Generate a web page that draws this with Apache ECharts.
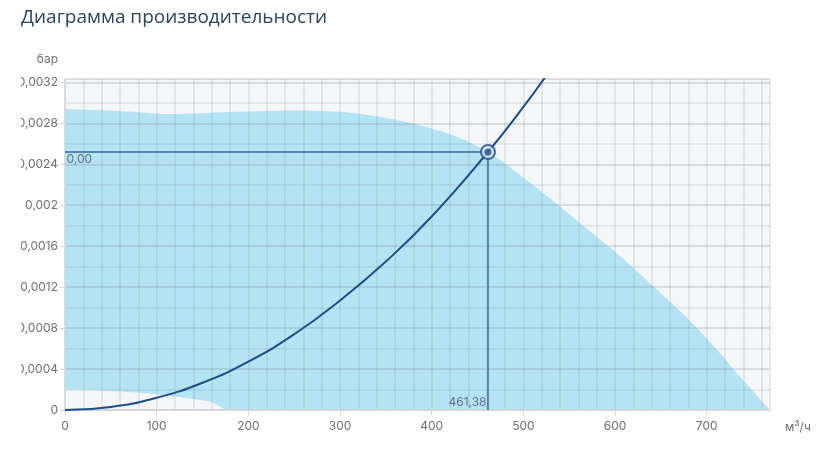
<!DOCTYPE html>
<html>
<head>
<meta charset="utf-8">
<script src="https://cdn.jsdelivr.net/npm/echarts@6.0.0/dist/echarts.min.js"></script>
<style>
  html, body { margin: 0; padding: 0; background: #fff; }
  #chart { position: absolute; left: 21px; top: 0; width: 808px; height: 467px; }
</style>
</head>
<body>
<div id="chart"></div>
<script>
// рабочая кривая сети (м3/ч, бар)
var curveX = [0, 50, 100, 150, 200, 250, 300, 350, 400, 461.38, 500, 530];
var curveY = [0, 0.00003, 0.00012, 0.000266, 0.000473, 0.00074, 0.00107, 0.00145, 0.00189, 0.00252, 0.00296, 0.00333];

// верхняя граница рабочей зоны
var upperX = [0, 60, 115, 180, 250, 303, 358, 400, 430, 461.38, 490, 530, 565, 602, 640, 675, 705, 735, 769];
var upperY = [0.00294, 0.00292, 0.00289, 0.00291, 0.002925, 0.00291, 0.00284, 0.00275, 0.00266, 0.00252, 0.00234, 0.00206, 0.0018, 0.00153, 0.00122, 0.00093, 0.00065, 0.00034, 0];

// нижняя граница рабочей зоны
var lowerX = [0, 50, 100, 130, 158, 168, 175];
var lowerY = [0.0002, 0.000188, 0.000152, 0.00012, 0.00008, 0.00004, 0];

// рабочая точка
var workPoint = [461.38, 0.00252];
var workLabelX = '461,38';
var workLabelY = '0,00';

function zip(xs, ys) {
    return xs.map(function (x, i) { return [x, ys[i]]; });
}

var gridColor = 'rgba(135,145,160,0.22)';
var gridColorMajor = 'rgba(125,135,150,0.32)';
var axisColor = '#d3d7dc';
var lineBlue = '#1c4e88';

var myChart = echarts.init(document.getElementById('chart'));

var option = {
    animation: false,
    title: {
        text: 'Диаграмма производительности',
        left: 0,
        top: 8,
        padding: 0,
        textStyle: {
            fontFamily: 'Open Sans',
            fontSize: 19,
            fontWeight: 'normal',
            color: '#274560'
        }
    },
    grid: {
        left: 44,
        top: 79,
        right: 59,
        bottom: 57,
        outerBoundsMode: 'none',
        containLabel: false,
        show: true,
        backgroundColor: '#f5f6f8',
        borderWidth: 0
    },
    xAxis: {
        type: 'value',
        min: 0,
        max: 769,
        interval: 100,
        z: 3,
        name: 'м³/ч',
        nameLocation: 'end',
        nameGap: 15,
        nameTextStyle: {
            fontFamily: 'Inter',
            fontSize: 12,
            color: '#6b6f76',
            verticalAlign: 'top',
            padding: [11, 0, 0, 0]
        },
        axisLine: { lineStyle: { color: axisColor, width: 2 } },
        axisTick: { show: true, length: 5, lineStyle: { color: axisColor } },
        axisLabel: {
            margin: 10,
            showMaxLabel: false,
            fontFamily: 'Inter',
            fontSize: 12,
            color: '#6b6f76'
        },
        splitLine: { show: true, lineStyle: { color: gridColor, width: 1.5 } },
        minorTick: { show: false, splitNumber: 5 },
        minorSplitLine: { show: true, lineStyle: { color: gridColor, width: 1.5 } }
    },
    yAxis: {
        type: 'value',
        min: 0,
        max: 0.003233,
        interval: 0.0004,
        z: 3,
        name: 'бар',
        nameLocation: 'end',
        nameGap: 14,
        nameTextStyle: {
            fontFamily: 'Inter',
            fontSize: 12,
            color: '#6b6f76',
            align: 'right',
            padding: [0, 7, 0, 0]
        },
        axisLine: { show: true, lineStyle: { color: axisColor, width: 1.5 } },
        axisTick: { show: true, length: 5, lineStyle: { color: axisColor } },
        axisLabel: {
            margin: 7,
            showMaxLabel: false,
            fontFamily: 'Inter',
            fontSize: 12,
            color: '#6b6f76',
            formatter: function (v) {
                if (v === 0) return '0';
                return String(+v.toFixed(4)).replace('.', ',');
            }
        },
        splitLine: { show: true, lineStyle: { color: gridColorMajor, width: 1.5 } },
        minorTick: { show: false, splitNumber: 2 },
        minorSplitLine: { show: true, lineStyle: { color: gridColor, width: 1.5 } }
    },
    series: [
        {
            name: 'зона',
            type: 'line',
            z: 1,
            smooth: 0.35,
            symbol: 'none',
            lineStyle: { width: 0 },
            areaStyle: { color: '#b4e4f4', opacity: 1 },
            data: zip(upperX, upperY)
        },
        {
            name: 'низ',
            type: 'line',
            z: 1,
            smooth: 0.4,
            symbol: 'none',
            lineStyle: { width: 0 },
            areaStyle: { color: '#f5f6f8', opacity: 1 },
            data: zip(lowerX, lowerY)
        },
        {
            name: 'сеть',
            type: 'line',
            z: 5,
            smooth: true,
            symbol: 'none',
            lineStyle: { color: lineBlue, width: 2 },
            data: zip(curveX, curveY)
        },
        {
            name: 'проекции',
            type: 'line',
            z: 5,
            symbol: 'none',
            lineStyle: { color: '#3b6896', width: 1.5 },
            data: [[0, workPoint[1]], workPoint, [workPoint[0], 0]]
        },
        {
            name: 'подписи',
            type: 'scatter',
            z: 6,
            symbolSize: 1,
            itemStyle: { color: 'rgba(0,0,0,0)' },
            label: {
                show: true,
                fontFamily: 'Inter',
                fontSize: 12,
                color: '#4a5866'
            },
            data: [
                {
                    value: [0, workPoint[1]],
                    label: { formatter: workLabelY, position: [2, 2], align: 'left', verticalAlign: 'top' }
                },
                {
                    value: [workPoint[0], 0],
                    label: { formatter: workLabelX, position: [-1, -1], align: 'right', verticalAlign: 'bottom' }
                }
            ]
        },
        {
            name: 'точка',
            type: 'scatter',
            z: 7,
            symbolSize: 14,
            itemStyle: { color: '#d6e6f2', borderColor: lineBlue, borderWidth: 2 },
            data: [workPoint]
        },
        {
            name: 'точка-центр',
            type: 'scatter',
            z: 8,
            symbolSize: 7,
            itemStyle: { color: lineBlue },
            data: [workPoint]
        }
    ]
};

if (option && typeof option === "object") {
    myChart.setOption(option, true);
}
</script>
</body>
</html>
